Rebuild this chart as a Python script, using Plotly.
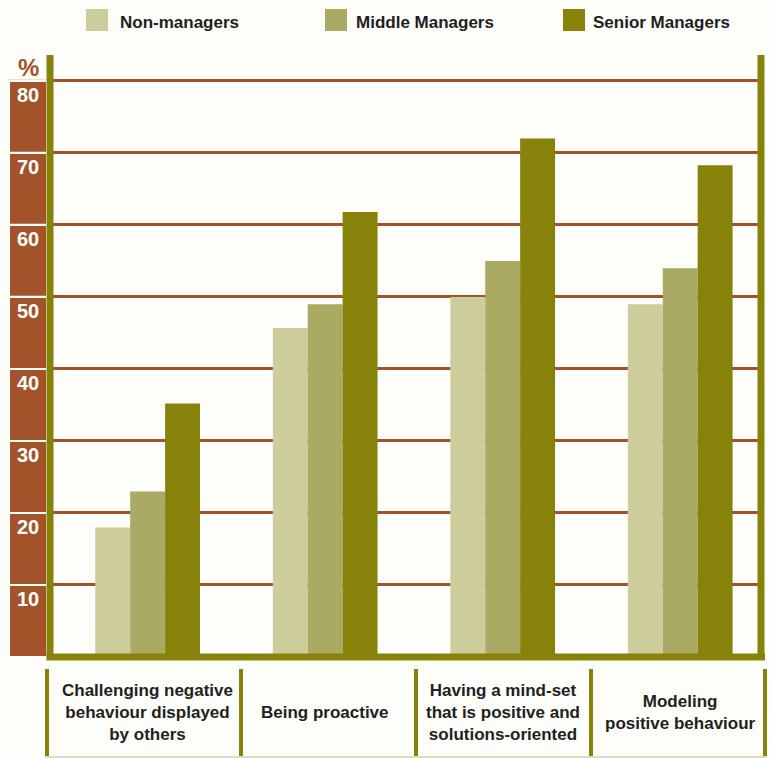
import plotly.graph_objects as go

# ---- data -------------------------------------------------------------
categories = [
    "Challenging negative<br>behaviour displayed<br>by others",
    "Being proactive",
    "Having a mind-set<br>that is positive and<br>solutions-oriented",
    "Modeling<br>positive behaviour",
]
series_names = ["Non-managers", "Middle Managers", "Senior Managers"]
non_managers = [18, 45.7, 50, 49]
middle_managers = [23, 49, 55, 54]
senior_managers = [35.2, 61.8, 72, 68.3]
y_ticks = [10, 20, 30, 40, 50, 60, 70, 80]

# ---- styling ----------------------------------------------------------
W, H = 770, 758
ML, MR, MT, MB = 50, 9, 55, 101
PW, PH = W - ML - MR, H - MT - MB
BG = "#FDFDFA"
BROWN = "#A3532A"
OLIVE = "#878209"
COLORS = ["#CDCD9B", "#AAAA65", OLIVE]
TEXT = "#231F20"
FONT = "Liberation Sans, Arial, sans-serif"


def px_x(px):
    return (px - ML) / PW


def px_y(py):
    return (H - MB - py) / PH


fig = go.Figure()
for name, vals, col in zip(series_names, [non_managers, middle_managers, senior_managers], COLORS):
    fig.add_trace(go.Bar(x=categories, y=vals, name=name, marker=dict(color=col, line=dict(width=0)),
                         showlegend=False, hoverinfo="y+name"))

shapes = []
annotations = []

# olive frame: left, right, bottom
for xp in (0, 1):
    shapes.append(dict(type="line", xref="paper", yref="paper", x0=xp, x1=xp, y0=0, y1=1,
                       line=dict(color=OLIVE, width=7), layer="above"))
shapes.append(dict(type="line", xref="paper", yref="paper", x0=px_x(46.5), x1=px_x(765), y0=0, y1=0,
                   line=dict(color=OLIVE, width=7), layer="above"))

# brown value boxes with labels on the left
gap = 0.15
for v in y_ticks:
    shapes.append(dict(type="rect", xref="paper", yref="y", x0=px_x(10), x1=px_x(46),
                       y0=v - 10 + gap, y1=v - gap, fillcolor=BROWN, line=dict(width=0)))
    annotations.append(dict(xref="paper", yref="y", x=px_x(28), y=v, yshift=-14,
                            text=f"<b>{v}</b>", showarrow=False, xanchor="center", yanchor="middle",
                            font=dict(family=FONT, size=20, color="white")))
shapes.append(dict(type="line", xref="paper", yref="paper", x0=px_x(9), x1=px_x(46),
                   y0=px_y(79.5), y1=px_y(79.5), line=dict(color="#EADFD5", width=1)))
annotations.append(dict(xref="paper", yref="paper", x=px_x(28), y=px_y(67), text="<b>%</b>",
                        showarrow=False, xanchor="center", yanchor="middle",
                        font=dict(family=FONT, size=24, color=BROWN)))

# legend
legend_square_x = [86, 325, 563]
legend_text_x = [118, 354, 591]
for name, col, sx, tx in zip(series_names, COLORS, legend_square_x, legend_text_x):
    shapes.append(dict(type="rect", xref="paper", yref="paper", x0=px_x(sx), x1=px_x(sx + 22),
                       y0=px_y(31), y1=px_y(9), fillcolor=col, line=dict(width=0)))
    annotations.append(dict(xref="paper", yref="paper", x=px_x(tx), y=px_y(22), text=f"<b>{name}</b>",
                            showarrow=False, xanchor="left", yanchor="middle",
                            font=dict(family=FONT, size=17, color=TEXT)))

# category cells underneath
for sx in [47, 241, 416, 591, 765]:
    shapes.append(dict(type="line", xref="paper", yref="paper", x0=px_x(sx), x1=px_x(sx),
                       y0=px_y(669), y1=px_y(758), line=dict(color=OLIVE, width=4)))
shapes.append(dict(type="line", xref="paper", yref="paper", x0=px_x(45), x1=px_x(767),
                   y0=px_y(757), y1=px_y(757), line=dict(color="#DCDCB8", width=2)))
for cat in categories:
    annotations.append(dict(xref="x", yref="paper", x=cat, y=px_y(712), text=f"<b>{cat}</b>",
                            showarrow=False, xanchor="center", yanchor="middle", align="center",
                            font=dict(family=FONT, size=17, color=TEXT)))

fig.update_layout(
    width=W, height=H,
    margin=dict(l=ML, r=MR, t=MT, b=MB, pad=0),
    paper_bgcolor=BG, plot_bgcolor=BG,
    barmode="group", bargap=0.41, bargroupgap=0,
    shapes=shapes, annotations=annotations,
    xaxis=dict(range=[-0.55, 3.455], showticklabels=False, showgrid=False, zeroline=False,
               showline=False, ticks=""),
    yaxis=dict(range=[0, 83.6], tickvals=y_ticks, showticklabels=False, showgrid=True,
               gridcolor=BROWN, gridwidth=3, zeroline=False, showline=False, ticks=""),
)

fig.write_html("out.html")
